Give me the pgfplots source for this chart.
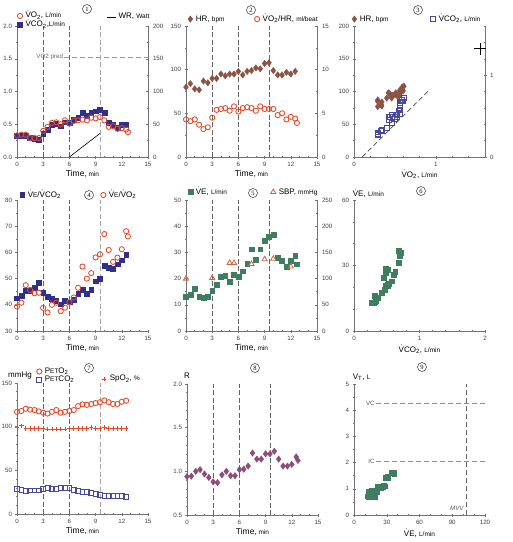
\documentclass[border=0pt]{standalone}
\usepackage{fontspec}
\setmainfont{Liberation Sans}
\newfontfamily\serifnum{Liberation Serif}
\usepackage{pgfplots}
\usepackage{pgfplotstable}
\pgfplotsset{compat=1.18}
\definecolor{vored}{RGB}{228,72,40}
\definecolor{navy}{RGB}{48,48,140}
\definecolor{hrbrown}{RGB}{140,82,66}
\definecolor{vegreen}{RGB}{62,125,95}
\definecolor{sbpc}{RGB}{205,105,70}
\definecolor{rmauve}{RGB}{140,76,122}
\definecolor{petblue}{RGB}{72,72,160}
\newcommand{\sm}[1]{{\fontsize{6.5}{6.5}\selectfont #1}}
\newcommand{\tlab}{{\fontsize{8.5}{9}\selectfont Time,}\,{\fontsize{6.5}{7}\selectfont min}}
\newcommand{\circnum}[3]{\node[circle,draw=black!80,line width=0.5pt,minimum size=9pt,inner sep=0pt,font=\serifnum\fontsize{6.5}{6.5}\selectfont] at (#1pt,-#2pt) {#3};}

\pgfplotstableread{
t    vo2  vco2 hr  o2p vevco2 vevo2 ve   peto2 petco2 spo2 r     vt
0    0.33 0.32 80  4.3 42.5   39.3  13.2 117   28.7   99   0.94  0.75
0.5  0.34 0.33 84  4.1 43.6   40.8  13.8 118   28.0   101  0.945 0.82
1    0.34 0.32 78  4.3 45.5   47.5  16.0 120.5 26.0   98   1.00  0.95
1.5  0.29 0.30 77  3.7 45.5   45.7  13.0 119.5 27.0   98   1.02  0.68
2    0.29 0.28 87  3.2 46.5   44.4  12.7 119   27.0   98   0.97  0.72
2.5  0.29 0.27 85  3.4 48.5   44.6  13.0 117.5 27.0   98   0.93  0.90
3    0.40 0.36 90  4.5 44.7   38.8  15.4 116   28.7   98   0.88  0.69
3.5  0.46 0.42 90  5.4 43.0   37.1  17.7 115   29.5   97   0.87  0.76
4    0.52 0.49 95  5.5 42.3   40.0  20.6 117   28.3   97   0.96  0.95
4.5  0.53 0.51 93  5.6 41.5   40.8  21.2 119   29.0   97   1.00  1.02
5    0.50 0.47 95  5.3 40.2   37.6  18.8 116   30.0   97   0.95  0.70
5.5  0.56 0.53 95  5.8 41.7   38.9  21.5 117   29.5   97   0.95  1.10
6    0.51 0.52 98  5.2 41.0   41.0  20.6 118   29.5   98   1.02  0.88
6.5  0.55 0.57 94  5.6 42.0   42.8  22.8 119   27.5   98   1.025 1.08
7    0.56 0.60 98  5.7 44.2   46.5  25.8 123.6 26.8   98   1.06  1.06
7.5  0.57 0.68 99  5.6 45.8   54.6  31.2 125.5 25.3   98   1.21  1.42
8    0.56 0.63 102 5.3 44.2   50.0  27.3 125   25.3   98   1.14  1.12
8.5  0.60 0.68 101 5.8 45.8   52.1  31.2 126   24.5   99   1.14  1.45
9    0.59 0.70 107 5.5 49.0   58.1  34.4 127   23.3   98   1.20  1.62
9.5  0.61 0.72 108 5.5 50.0   59.3  36.0 128   22.2   98   1.20  1.60
10   0.56 0.68 99  5.5 54.9   67.0  36.9 130   20.7   99   1.23  1.58
10.5 0.46 0.52 94  4.8 54.2   60.9  28.0 128   21.0   98   1.14  1.10
11   0.47 0.49 94  5.0 53.8   56.4  26.7 126   21.0   98   1.06  1.08
11.5 0.43 0.45 97  4.3 55.5   58.0  24.5 126   21.0   98   1.06  1.04
12   0.44 0.49 95  4.6 57.0   61.2  26.9 128.5 20.3   98   1.08  1.12
12.5 0.42 0.49 98  4.4 59.0   68.1  28.6 129.7 19.5   98   1.165 1.43
}\cpet

\pgfplotsset{
  base/.style={scale only axis, width=131pt, height=131pt, anchor=south west, clip=false,
    axis line style={draw=black!55, line width=0.6pt},
    tick style={draw=black!55, line width=0.5pt},
    major tick length=3pt, minor tick length=2pt, tick align=center,
    tick label style={font=\fontsize{6.2}{6.5}\selectfont, text=black!75},
    /pgf/number format/assume math mode=true,
    legend style={draw=none, fill=none, inner sep=0pt, outer sep=0pt,
      font=\fontsize{8}{8.5}\selectfont,
      nodes={inner sep=0.5pt, text height=6pt, text depth=2pt}},
    legend cell align=left,
    legend image code/.code={\draw[mark repeat=2,mark phase=2,##1] plot coordinates {(0cm,0cm) (0.1cm,0cm) (0.2cm,0cm)}; \path (0cm,0cm) (0.27cm,0cm);},
  },
  lax/.style={base, axis x line*=bottom, axis y line*=left},
  rax/.style={base, axis x line=none, axis y line*=right},
  hax/.style={base, hide axis},
  timex/.style={xmin=0,xmax=15, xtick={0,3,...,15}, minor x tick num=2,
     xlabel={\tlab}, xlabel style={yshift=3pt}},
  refl/.style={forget plot, draw=black!60, dash pattern=on 5pt off 2.5pt, line width=0.5pt},
  onedec/.style={y tick label style={/pgf/number format/.cd, fixed, fixed zerofill, precision=1}},
  mVO/.style={only marks, mark=o, mark size=2.6pt, mark options={draw=vored, fill=white, line width=0.85pt}},
  mVCO/.style={only marks, mark=square*, mark size=2.4pt, mark options={draw=navy, fill=navy}},
  mHR/.style={only marks, mark=diamond*, mark size=3.2pt, mark options={draw=hrbrown, fill=hrbrown}},
  mVE/.style={only marks, mark=square*, mark size=2.4pt, mark options={draw=vegreen, fill=vegreen}},
  mR/.style={only marks, mark=diamond*, mark size=3.2pt, mark options={draw=rmauve, fill=rmauve}},
  mPC/.style={only marks, mark=square, mark size=2.4pt, mark options={draw=petblue, fill=white, line width=0.85pt}},
}

\begin{document}
\begin{tikzpicture}
\useasboundingbox (0pt,0pt) rectangle (513pt,-542pt);

% ---------------- Panel 1 ----------------
\begin{axis}[lax, timex, at={(17pt,-157pt)}, ymin=0, ymax=2, ytick={0,0.5,...,2}, minor y tick num=1, onedec,
  reverse legend, legend style={at={(0.0,1.111)}, anchor=north west, row sep=0pt}]
\addplot[refl] coordinates {(3,0) (3,2)};
\addplot[refl] coordinates {(6,0) (6,2)};
\addplot[refl, draw=black!35] coordinates {(9.5,0) (9.5,2)};
\addplot[refl, draw=black!40, dash pattern=on 5pt off 3pt] coordinates {(5.4,1.53) (15,1.53)};
\node[anchor=east, font=\fontsize{6.2}{6.5}\selectfont, text=black!60, inner sep=1pt] at (axis cs:5.4,1.53) {VO2 pred};
\addplot[mVCO] table[x=t, y=vco2] {\cpet};
\addlegendentry{\.VCO\textsubscript{2},\sm{L/min}}
\addplot[mVO] table[x=t, y=vo2] {\cpet};
\addlegendentry{\.VO\textsubscript{2}, \sm{L/min}}
\addplot[mVO, forget plot] coordinates {(12.7,0.38)};
\end{axis}
\begin{axis}[rax, at={(17pt,-157pt)}, xmin=0, xmax=15, ymin=0, ymax=200, ytick={0,50,...,200}, minor y tick num=1,
  legend style={at={(0.687,1.069)}, anchor=west},
  legend image code/.code={\draw[#1] (0cm,0cm) -- (0.32cm,0cm);}]
\addplot[black, line width=0.6pt] coordinates {(6,0) (9.5,36)};
\addlegendentry{\,WR, {\fontsize{6.5}{7}\selectfont Watt}}
\end{axis}

% ---------------- Panel 2 ----------------
\begin{axis}[lax, timex, at={(186pt,-157pt)}, ymin=0, ymax=150, ytick={0,50,100,150}, minor y tick num=1,
  legend style={at={(0.01,1.053)}, anchor=west}]
\addplot[refl] coordinates {(3,0) (3,150)};
\addplot[refl] coordinates {(6,0) (6,150)};
\addplot[refl] coordinates {(9.5,0) (9.5,150)};
\addplot[mHR] table[x=t, y=hr] {\cpet};
\addlegendentry{HR, \sm{bpm}}
\end{axis}
\begin{axis}[rax, at={(186pt,-157pt)}, xmin=0, xmax=15, ymin=0, ymax=15, ytick={0,5,10,15}, minor y tick num=1,
  legend style={at={(0.52,1.053)}, anchor=west}]
\addplot[mVO] table[x=t, y=o2p] {\cpet};
\addlegendentry{\.VO\textsubscript{2}/HR, \sm{ml/beat}}
\addplot[mVO, forget plot] coordinates {(12.7,3.9)};
\end{axis}

% ---------------- Panel 3 ----------------
\begin{axis}[lax, at={(354pt,-157pt)}, xmin=0, xmax=1.6, xtick={0,1}, minor xtick={0.2,0.4,0.6,0.8,1.2,1.4,1.6},
  ymin=0, ymax=200, ytick={0,50,...,200}, minor y tick num=1,
  xlabel={\.VO\textsubscript{2}, \sm{L/min}}, xlabel style={yshift=3pt, font=\fontsize{8}{8.5}\selectfont},
  legend style={at={(-0.02,1.053)}, anchor=west}]
\addplot[mHR] table[x=vo2, y=hr] {\cpet};
\addlegendentry{HR, \sm{bpm}}
\end{axis}
\begin{axis}[rax, at={(354pt,-157pt)}, xmin=0, xmax=1.6, ymin=0, ymax=1.6, ytick={0,1},
  minor ytick={0.2,0.4,0.6,0.8,1.2,1.4,1.6},
  legend style={at={(0.582,1.053)}, anchor=west}]
\addplot[black!85, line width=0.6pt, dash pattern=on 5pt off 3pt, forget plot] coordinates {(0.1,0) (0.93,0.83)};
\addplot[mPC] table[x=vo2, y=vco2] {\cpet};
\addlegendentry{\.VCO\textsubscript{2}, \sm{L/min}}
\addplot[only marks, mark=+, mark size=6pt, mark options={black, line width=1pt}, forget plot] coordinates {(1.54,1.32)};
\end{axis}

% ---------------- Panel 4 ----------------
\begin{axis}[lax, timex, at={(17pt,-331pt)}, ymin=30, ymax=80, ytick={30,40,...,80}, minor y tick num=1,
  legend style={at={(0.017,1.038)}, anchor=west}]
\addplot[refl] coordinates {(3,30) (3,80)};
\addplot[refl] coordinates {(6,30) (6,80)};
\addplot[refl, draw=black!35] coordinates {(9.5,30) (9.5,80)};
\addplot[mVCO] table[x=t, y=vevco2] {\cpet};
\addlegendentry{\.V{\fontsize{6.5}{6.5}\selectfont E}/\.VCO\textsubscript{2}}
\end{axis}
\begin{axis}[hax, at={(17pt,-331pt)}, xmin=0, xmax=15, ymin=30, ymax=80,
  legend style={at={(0.636,1.038)}, anchor=west}]
\addplot[mVO] table[x=t, y=vevo2] {\cpet};
\addlegendentry{\.V{\fontsize{6.5}{6.5}\selectfont E}/\.VO\textsubscript{2}}
\addplot[mVO, forget plot] coordinates {(12.7,66.1)};
\end{axis}

% ---------------- Panel 5 ----------------
\begin{axis}[lax, timex, at={(186pt,-331pt)}, ymin=0, ymax=50, ytick={0,10,...,50}, minor y tick num=1,
  legend style={at={(0.01,1.061)}, anchor=west}]
\addplot[refl] coordinates {(3,0) (3,50)};
\addplot[refl] coordinates {(6,0) (6,50)};
\addplot[refl] coordinates {(9.5,0) (9.5,50)};
\addplot[mVE] table[x=t, y=ve] {\cpet};
\addlegendentry{\.VE, \sm{L/min}}
\addplot[mVE, forget plot] coordinates {(12.7,25.5)};
\end{axis}
\begin{axis}[rax, at={(186pt,-331pt)}, xmin=0, xmax=15, ymin=0, ymax=250, ytick={0,50,...,250}, minor y tick num=1,
  legend style={at={(0.643,1.061)}, anchor=west}]
\addplot[only marks, mark=triangle, mark size=3pt, mark options={draw=sbpc, fill=white, line width=0.85pt}]
  coordinates {(0,100) (3,101) (5,130) (5.5,130) (7.5,128) (9,137) (10,138) (12,123)};
\addlegendentry{SBP, \sm{mmHg}}
\end{axis}

% ---------------- Panel 6 ----------------
\begin{axis}[lax, at={(354pt,-331pt)}, xmin=0, xmax=2, xtick={0,1,2}, minor x tick num=4,
  ymin=0, ymax=60, ytick={0,30,60}, minor y tick num=2,
  xlabel={\.VCO\textsubscript{2}, \sm{L/min}}, xlabel style={yshift=2pt, font=\fontsize{8}{8.5}\selectfont}]
\addplot[mVE] table[x=vco2, y=ve] {\cpet};
\node[anchor=west, font=\fontsize{8}{8.5}\selectfont, inner sep=0pt] at (rel axis cs:-0.01,1.046) {\.VE, \sm{L/min}};
\end{axis}

% ---------------- Panel 7 ----------------
\begin{axis}[lax, timex, at={(17pt,-514pt)}, ymin=0, ymax=150, ytick={0,50,100,150}, minor y tick num=4,
  legend style={at={(0.147,1.122)}, anchor=north west, row sep=-1pt}]
\addplot[refl] coordinates {(3,0) (3,150)};
\addplot[refl] coordinates {(6,0) (6,150)};
\addplot[refl, draw=black!35] coordinates {(9.5,0) (9.5,150)};
\addplot[mVO] table[x=t, y=peto2] {\cpet};
\addlegendentry{P\sm{ET}O\textsubscript{2}}
\addplot[mPC] table[x=t, y=petco2] {\cpet};
\addlegendentry{P\sm{ET}CO\textsubscript{2}}
\node[font=\fontsize{8}{8}\selectfont, inner sep=0pt] at (rel axis cs:0.023,1.053) {mmHg};
\end{axis}
\begin{axis}[hax, at={(17pt,-514pt)}, xmin=0, xmax=15, ymin=0, ymax=150,
  legend style={at={(0.643,1.031)}, anchor=west}]
\addplot[only marks, mark=+, mark size=2.2pt, mark options={draw=vored, line width=0.85pt}] table[x=t, y=spo2] {\cpet};
\addlegendentry{SpO\textsubscript{2}, \sm{\%}}
\end{axis}

% ---------------- Panel 8 ----------------
\begin{axis}[lax, timex, at={(187pt,-515pt)}, ymin=0.5, ymax=2, ytick={0.5,1,1.5,2}, minor y tick num=4, onedec]
\addplot[refl] coordinates {(3,0.5) (3,2)};
\addplot[refl] coordinates {(6,0.5) (6,2)};
\addplot[refl] coordinates {(9.5,0.5) (9.5,2)};
\addplot[mR] table[x=t, y=r] {\cpet};
\addplot[mR] coordinates {(12.7,1.125)};
\node[font=\fontsize{8}{8}\selectfont, inner sep=0pt] at (rel axis cs:0,1.06) {R};
\end{axis}

% ---------------- Panel 9 ----------------
\begin{axis}[lax, at={(354pt,-515pt)}, xmin=0, xmax=120, xtick={0,30,...,120}, minor x tick num=2,
  ymin=0, ymax=5, ytick={0,1,...,5}, minor y tick num=1,
  xlabel={\.VE, \sm{L/min}}, xlabel style={yshift=2pt, font=\fontsize{8}{8.5}\selectfont}]
\addplot[refl, draw=black!45, dash pattern=on 5pt off 3pt] coordinates {(20,4.25) (120,4.25)};
\addplot[refl, draw=black!45, dash pattern=on 5pt off 3pt] coordinates {(20,2.05) (120,2.05)};
\addplot[refl, draw=black!60, dash pattern=on 5pt off 3pt] coordinates {(102.4,0) (102.4,5)};
\node[anchor=east, font=\fontsize{6.2}{6.5}\selectfont, text=black!65, inner sep=1pt] at (axis cs:20,4.25) {VC};
\node[anchor=east, font=\fontsize{6.2}{6.5}\selectfont, text=black!65, inner sep=1pt] at (axis cs:20,2.05) {IC};
\node[anchor=east, font=\itshape\fontsize{6.2}{6.5}\selectfont, text=black!65, inner sep=1pt] at (axis cs:101.5,0.25) {MVV};
\addplot[mVE] table[x=ve, y=vt] {\cpet};
\node[anchor=west, font=\fontsize{8}{8.5}\selectfont, inner sep=0pt] at (rel axis cs:-0.01,1.053) {V\textsubscript{T}, \sm{L}};
\end{axis}

\circnum{87}{9}{1}
\circnum{251}{10}{2}
\circnum{418}{10}{3}
\circnum{89}{195}{4}
\circnum{253}{193}{5}
\circnum{421}{191}{6}
\circnum{89}{368}{7}
\circnum{255}{368}{8}
\circnum{422}{367}{9}
\end{tikzpicture}
\end{document}
